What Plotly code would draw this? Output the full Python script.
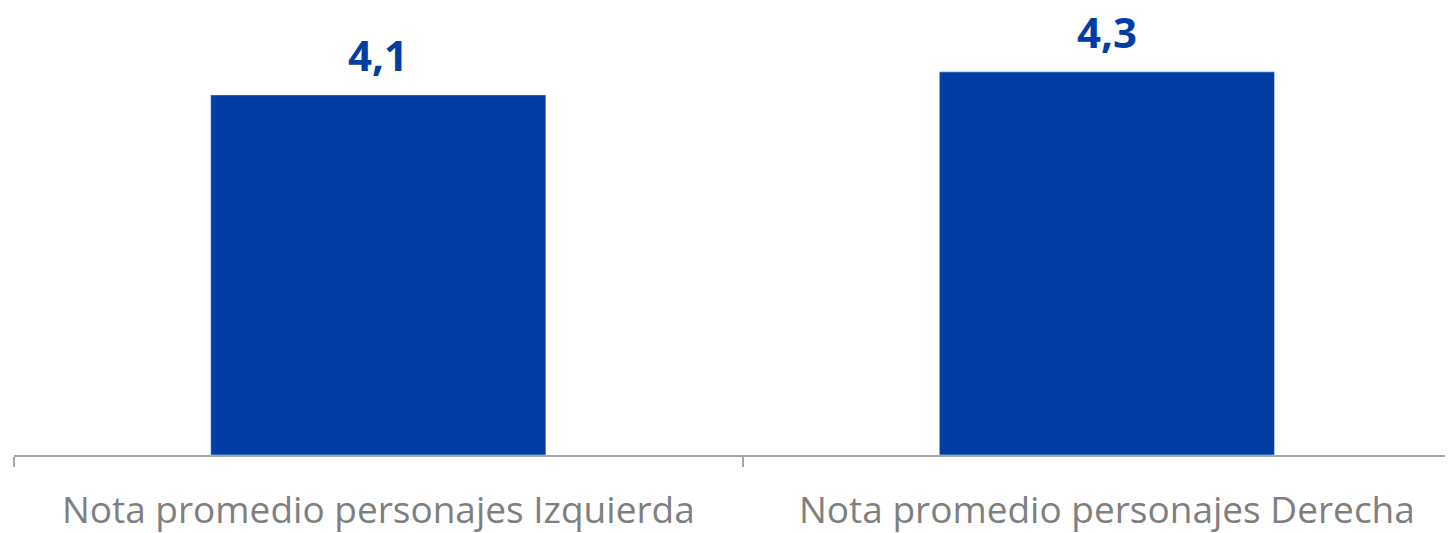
import plotly.graph_objects as go

categories = ["Nota promedio personajes Izquierda", "Nota promedio personajes Derecha"]
values = [4.06, 4.32]
labels = [f"{v:.1f}".replace(".", ",") for v in values]

BLUE = "#003DA5"

fig = go.Figure()
fig.add_trace(go.Bar(
    x=categories, y=values, marker_color=BLUE, width=0.46,
    hoverinfo="skip", showlegend=False,
))

for c, v, t in zip(categories, values, labels):
    fig.add_annotation(
        x=c, y=v, text=f"<b>{t}</b>", showarrow=False,
        yanchor="bottom", yshift=11, borderpad=0,
        font=dict(family="Open Sans", size=42, color=BLUE),
    )

fig.update_layout(
    width=1445, height=525,
    margin=dict(l=6, r=0, t=0, b=77.5, autoexpand=False),
    plot_bgcolor="white", paper_bgcolor="white",
    xaxis=dict(
        type="category", range=[-0.5, 1.475], automargin=False,
        showline=True, linecolor="#a6a6a6", linewidth=1.5,
        ticks="outside", tickson="boundaries", ticklen=10, tickcolor="#a6a6a6", tickwidth=1.5,
        ticklabelstandoff=22,
        tickfont=dict(family="Open Sans", size=37, color="#7f7f7f"),
        showgrid=False, zeroline=False,
    ),
    yaxis=dict(range=[0, 5.04], visible=False, showgrid=False, zeroline=False, automargin=False),
)

fig.write_html("out.html")
